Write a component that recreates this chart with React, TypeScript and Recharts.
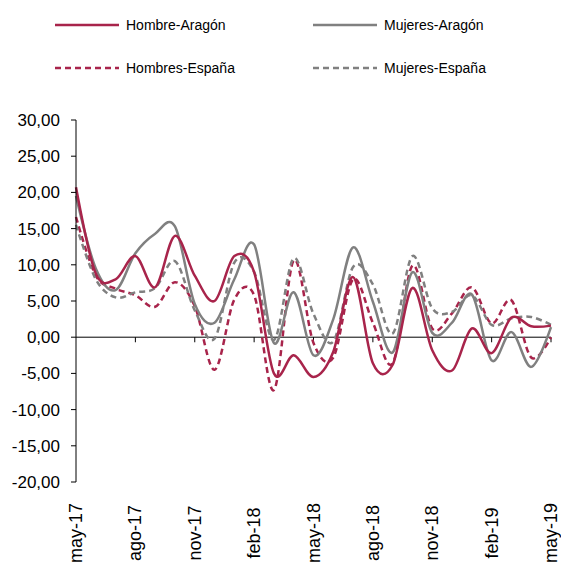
import React from 'react';
import { LineChart, Line, XAxis, YAxis, ReferenceLine } from 'recharts';

const months = [
  'may-17', 'jun-17', 'jul-17', 'ago-17', 'sep-17', 'oct-17', 'nov-17', 'dic-17',
  'ene-18', 'feb-18', 'mar-18', 'abr-18', 'may-18', 'jun-18', 'jul-18', 'ago-18',
  'sep-18', 'oct-18', 'nov-18', 'dic-18', 'ene-19', 'feb-19', 'mar-19', 'abr-19', 'may-19',
];

const hombreAragon = [20.7, 8.8, 8.0, 11.2, 6.9, 14.0, 8.5, 5.0, 11.2, 9.0, -5.0, -2.5, -5.5, -2.0, 8.3, -3.6, -3.8, 6.8, -1.8, -4.6, 1.2, -2.2, 2.7, 1.5, 1.6];
const mujeresAragon = [19.5, 9.5, 6.5, 11.6, 14.3, 15.3, 4.6, 2.0, 8.0, 12.8, -0.8, 6.2, -2.5, 2.5, 12.4, 4.9, -2.1, 9.0, 0.6, 2.0, 5.9, -3.2, 0.7, -4.1, 1.4];
const hombresEspana = [16.6, 8.5, 6.7, 5.8, 4.2, 7.6, 4.3, -4.5, 5.2, 5.8, -7.3, 10.6, -0.8, -2.8, 8.0, 2.0, -3.6, 9.9, 1.2, 3.3, 6.9, 1.9, 5.1, -2.8, 0.0];
const mujeresEspana = [15.5, 8.0, 5.5, 6.2, 6.8, 10.5, 3.7, -0.2, 10.3, 9.0, -0.4, 10.9, 3.2, -0.6, 9.7, 7.3, 0.5, 11.2, 4.0, 3.5, 5.8, 1.7, 2.6, 2.8, 1.7];

const yTicks = [-20, -15, -10, -5, 0, 5, 10, 15, 20, 25, 30];
const axisTickMonths = months.filter((_, i) => i % 3 === 0 && i > 0);

const RED = '#A8244B';
const GRAY = '#808080';
const FONT = '"Liberation Sans", Arial, sans-serif';

const data = months.map((m, i) => ({
  month: m,
  hombreAragon: hombreAragon[i],
  mujeresAragon: mujeresAragon[i],
  hombresEspana: hombresEspana[i],
  mujeresEspana: mujeresEspana[i],
}));

// Excel-like smoothing: Catmull-Rom (cardinal, tension 0)
const K = 1 / 6;
class Cardinal {
  _context: any; _line: number = NaN; _point = 0;
  _x0 = NaN; _x1 = NaN; _x2 = NaN; _y0 = NaN; _y1 = NaN; _y2 = NaN;
  constructor(context: any) { this._context = context; }
  areaStart() { this._line = 0; }
  areaEnd() { this._line = NaN; }
  lineStart() {
    this._x0 = this._x1 = this._x2 = this._y0 = this._y1 = this._y2 = NaN;
    this._point = 0;
  }
  lineEnd() {
    switch (this._point) {
      case 2: this._context.lineTo(this._x2, this._y2); break;
      case 3: this.seg(this._x1, this._y1); break;
    }
    if (this._line || (this._line !== 0 && this._point === 1)) this._context.closePath();
    this._line = 1 - this._line;
  }
  seg(x: number, y: number) {
    this._context.bezierCurveTo(
      this._x1 + K * (this._x2 - this._x0),
      this._y1 + K * (this._y2 - this._y0),
      this._x2 + K * (this._x1 - x),
      this._y2 + K * (this._y1 - y),
      this._x2, this._y2,
    );
  }
  point(x: number, y: number) {
    x = +x; y = +y;
    switch (this._point) {
      case 0: this._point = 1; this._line ? this._context.lineTo(x, y) : this._context.moveTo(x, y); break;
      case 1: this._point = 2; this._x1 = x; this._y1 = y; break;
      case 2: this._point = 3; this.seg(x, y); break;
      default: this.seg(x, y); break;
    }
    this._x0 = this._x1; this._x1 = this._x2; this._x2 = x;
    this._y0 = this._y1; this._y1 = this._y2; this._y2 = y;
  }
}
const smooth: any = (context: any) => new Cardinal(context);

const XTick = ({ x, y, payload }: any) => {
  const cy = y + 43;
  return (
    <text x={x} y={cy} transform={`rotate(-90, ${x}, ${cy})`} textAnchor="middle"
      dominantBaseline="central" fontSize={18} fontFamily={FONT} fill="#000">
      {payload.value}
    </text>
  );
};

const legendItems = [
  { name: 'Hombre-Aragón', color: RED, dash: undefined, x: 55, y: 25 },
  { name: 'Mujeres-Aragón', color: GRAY, dash: undefined, x: 313, y: 25 },
  { name: 'Hombres-España', color: RED, dash: '6 4', x: 55, y: 68 },
  { name: 'Mujeres-España', color: GRAY, dash: '6 4', x: 313, y: 68 },
];

export default function App() {
  return (
    <div style={{ position: 'absolute', left: 0, top: 0, width: 561, height: 562, background: '#fff' }}>
      <svg width={561} height={90} style={{ position: 'absolute', left: 0, top: 0 }}>
        {legendItems.map((it) => (
          <g key={it.name}>
            <line x1={it.x} x2={it.x + 64} y1={it.y} y2={it.y} stroke={it.color} strokeWidth={2.5} strokeDasharray={it.dash} />
            <text x={it.x + 71} y={it.y} dominantBaseline="central" fontSize={14} fontFamily={FONT} fill="#000">{it.name}</text>
          </g>
        ))}
      </svg>
      <LineChart width={561} height={562} data={data} margin={{ top: 120, right: 10, bottom: 0, left: 0 }}>
        <XAxis dataKey="month" height={80} interval={2} axisLine={false} tickLine={false} tick={<XTick />} />
        <YAxis
          width={76}
          domain={[-20, 30]}
          ticks={yTicks}
          interval={0}
          tickFormatter={(v: number) => v.toFixed(2).replace('.', ',')}
          axisLine={{ stroke: '#000' }}
          tickLine={{ stroke: '#000' }}
          tickSize={5}
          tickMargin={11}
          tick={{ fontSize: 17, fontFamily: FONT, fill: '#000' }}
        />
        <ReferenceLine y={0} stroke="#000" strokeWidth={1} />
        {axisTickMonths.map((m) => (
          <ReferenceLine key={m} segment={[{ x: m, y: 0 }, { x: m, y: -0.7 }]} stroke="#000" strokeWidth={1} />
        ))}
        <Line dataKey="hombresEspana" type={smooth} stroke={RED} strokeWidth={2.5} strokeDasharray="6 4" dot={false} isAnimationActive={false} />
        <Line dataKey="mujeresEspana" type={smooth} stroke={GRAY} strokeWidth={2.5} strokeDasharray="6 4" dot={false} isAnimationActive={false} />
        <Line dataKey="mujeresAragon" type={smooth} stroke={GRAY} strokeWidth={2.5} dot={false} isAnimationActive={false} />
        <Line dataKey="hombreAragon" type={smooth} stroke={RED} strokeWidth={2.5} dot={false} isAnimationActive={false} />
      </LineChart>
    </div>
  );
}
